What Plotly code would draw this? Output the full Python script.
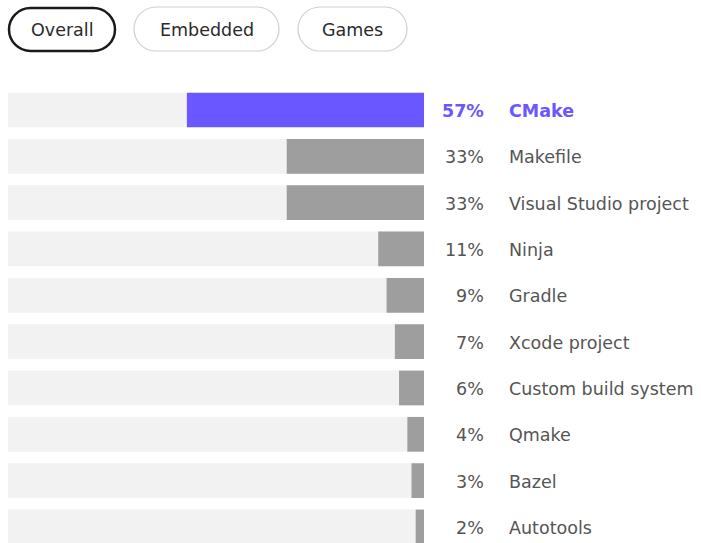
import plotly.graph_objects as go

tools = ["CMake", "Makefile", "Visual Studio project", "Ninja", "Gradle",
         "Xcode project", "Custom build system", "Qmake", "Bazel", "Autotools"]
shares = [57, 33, 33, 11, 9, 7, 6, 4, 3, 2]
tabs = ["Overall", "Embedded", "Games"]
full = [100] * len(tools)

W, H = 701, 543
ACCENT = "#6B57FF"
GRAY = "#9E9E9E"
BG = "#F2F2F2"
TEXT = "#555555"
FONT = "DejaVu Sans"
FS = 17.5

colors = [ACCENT] + [GRAY] * (len(tools) - 1)

fig = go.Figure()
fig.add_trace(go.Bar(y=tools, x=full, orientation="h", marker=dict(color=BG, line_width=0),
                     width=0.75, hoverinfo="skip"))
fig.add_trace(go.Bar(y=tools, x=shares, orientation="h", marker=dict(color=colors, line_width=0),
                     width=0.75, hoverinfo="skip"))

# row geometry: first row centre at 110px, pitch 46.33px
pitch = 46.33
top_px = 110
y_top = -top_px / pitch
y_bot = (len(tools) - 1) + (H - (top_px + pitch * (len(tools) - 1))) / pitch

annotations = []
for i, (t, s) in enumerate(zip(tools, shares)):
    first = i == 0
    col = ACCENT if first else TEXT
    txt_pct = f"<b>{s}%</b>" if first else f"{s}%"
    txt_name = f"<b>{t}</b>" if first else t
    annotations.append(dict(x=486 / W, xref="paper", y=t, yref="y", text=txt_pct,
                            showarrow=False, xanchor="right", yshift=-1,
                            font=dict(family=FONT, size=FS, color=col)))
    annotations.append(dict(x=507 / W, xref="paper", y=t, yref="y", text=txt_name,
                            showarrow=False, xanchor="left", yshift=-1,
                            font=dict(family=FONT, size=FS, color=col)))

# tab buttons (pill shapes) in pixel coords -> paper coords
def px(x):
    return x / W

def py(y):
    return 1 - y / H

def pill(x0, y0, x1, y1):
    r = (y1 - y0) / 2
    k = 0.5523 * r
    def P(x, y):
        return f"{px(x):.5f},{py(y):.5f}"
    d = f"M {P(x0 + r, y0)} L {P(x1 - r, y0)} "
    d += f"C {P(x1 - r + k, y0)} {P(x1, y0 + r - k)} {P(x1, y0 + r)} "
    d += f"C {P(x1, y0 + r + k)} {P(x1 - r + k, y1)} {P(x1 - r, y1)} "
    d += f"L {P(x0 + r, y1)} "
    d += f"C {P(x0 + r - k, y1)} {P(x0, y0 + r + k)} {P(x0, y0 + r)} "
    d += f"C {P(x0, y0 + r - k)} {P(x0 + r - k, y0)} {P(x0 + r, y0)} Z"
    return d

tab_boxes = [(9, 8, 115, 51), (134, 7, 279, 51), (298, 7, 407, 51)]
shapes = []
for i, (name, (x0, y0, x1, y1)) in enumerate(zip(tabs, tab_boxes)):
    sel = i == 0
    shapes.append(dict(type="path", xref="paper", yref="paper", path=pill(x0, y0, x1, y1),
                       line=dict(color="#1a1a1a" if sel else "#CFCFCF", width=2.5 if sel else 1.2),
                       fillcolor="white", layer="above"))
    annotations.append(dict(x=px((x0 + x1) / 2), y=py(29.5), xref="paper", yref="paper",
                            text=name, showarrow=False, xanchor="center", yanchor="middle",
                            font=dict(family=FONT, size=FS, color="#2a2a2a")))

fig.update_layout(
    width=W, height=H, margin=dict(l=0, r=0, t=0, b=0),
    paper_bgcolor="white", plot_bgcolor="white",
    barmode="overlay", showlegend=False,
    xaxis=dict(domain=[8 / W, 424 / W], range=[100, 0], visible=False, fixedrange=True),
    yaxis=dict(range=[y_bot, y_top], visible=False, fixedrange=True, type="category"),
    annotations=annotations, shapes=shapes,
)

fig.write_html("out.html")
